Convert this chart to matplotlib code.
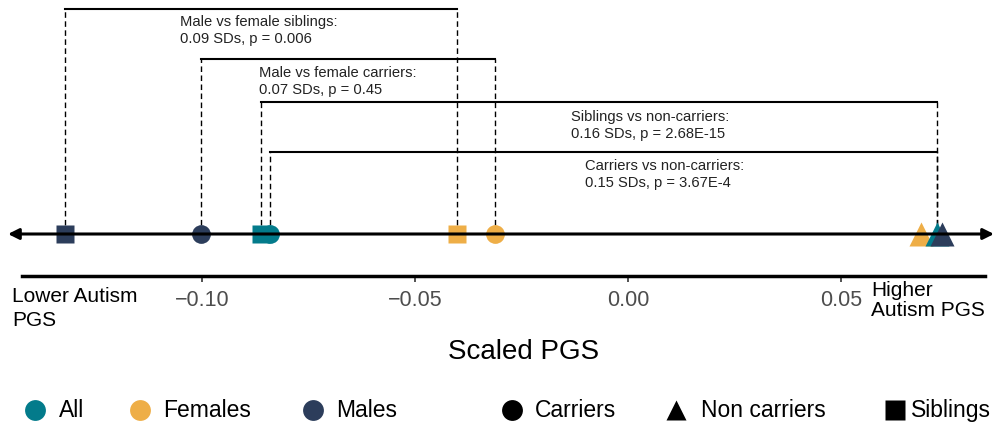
import matplotlib.pyplot as plt
from matplotlib.lines import Line2D
import matplotlib.transforms as mtransforms

plt.rcParams['font.family'] = ['Liberation Sans', 'DejaVu Sans']

TEAL = '#037b8b'
ORANGE = '#eeae47'
NAVY = '#2c3d5b'

# mean scaled PGS per group
groups = ['Siblings', 'Carriers', 'Siblings', 'Carriers', 'Siblings', 'Carriers',
          'Non carriers', 'Non carriers', 'Non carriers']
sexes = ['Males', 'Males', 'All', 'All', 'Females', 'Females',
         'Females', 'All', 'Males']
pgs = [-0.1322, -0.1003, -0.0862, -0.0841, -0.0401, -0.0313,
       0.0688, 0.0726, 0.0738]

# comparisons: (left group index, right group index, text)
comparisons = [
    (0, 4, 'Male vs female siblings:\n0.09 SDs, p = 0.006'),
    (1, 5, 'Male vs female carriers:\n0.07 SDs, p = 0.45'),
    (2, 7, 'Siblings vs non-carriers:\n0.16 SDs, p = 2.68E-15'),
    (3, 7, 'Carriers vs non-carriers:\n0.15 SDs, p = 3.67E-4'),
]

colours = {'All': TEAL, 'Females': ORANGE, 'Males': NAVY}
shapes = {'Carriers': 'o', 'Non carriers': '^', 'Siblings': 's'}
sizes = {'o': 13.5, '^': 17, 's': 13}

W, H = 995, 427
fig = plt.figure(figsize=(W / 100, H / 100), dpi=100)
ax = fig.add_axes([22 / W, (H - 277) / H, 963 / W, 277 / H])
ax.set_xlim(-0.1423, 0.0838)
ax.set_ylim(-42, 235)

# bracket heights and text anchors (x offset from left end, y top)
levels = [225, 175, 132, 82]
text_pos = [(0.0270, 220), (0.0137, 169), (0.0729, 125), (0.0740, 76)]

for (i, j, label), lev, (dx, ty) in zip(comparisons, levels, text_pos):
    x0, x1 = pgs[i], pgs[j]
    ax.plot([x0, x1], [lev, lev], color='black', lw=1.5, zorder=2)
    ax.plot([x0, x0], [0, lev], color='black', lw=1, ls=(0, (4, 2.5)), zorder=1)
    ax.plot([x1, x1], [0, lev], color='black', lw=1, ls=(0, (4, 2.5)), zorder=1)
    ax.text(x0 + dx, ty, label, fontsize=10.6, va='top', ha='left',
            color='#222222', linespacing=1.25)

order = [4, 5, 0, 1, 2, 3, 6, 7, 8]
for k in order:
    m = shapes[groups[k]]
    ax.plot(pgs[k], 0, marker=m, ms=sizes[m], color=colours[sexes[k]],
            mec='none', zorder=3)

# number line with arrows at both ends
trans = mtransforms.blended_transform_factory(ax.transAxes, ax.transData)
ax.annotate('', xy=(1 + 9 / 963, 0), xytext=(-14 / 963, 0),
            xycoords=trans, textcoords=trans, annotation_clip=False,
            arrowprops=dict(arrowstyle='<|-|>', lw=2.2, color='black',
                            mutation_scale=16, shrinkA=0, shrinkB=0),
            zorder=4)

for s in ['left', 'right', 'top']:
    ax.spines[s].set_visible(False)
ax.spines['bottom'].set_linewidth(2.5)
ax.set_yticks([])
ax.set_xticks([-0.10, -0.05, 0.00, 0.05])
ax.set_xticklabels(['\u22120.10', '\u22120.05', '0.00', '0.05'], color='#4d4d4d')
ax.tick_params(axis='x', length=4, width=1.2, pad=5, labelsize=15.5,
               color='#333333')

fig.text(12 / W, 1 - 287 / H, 'Lower Autism\nPGS', fontsize=15, va='top',
         ha='left', linespacing=1.35)
fig.text(871 / W, 1 - 281 / H, 'Higher\nAutism PGS', fontsize=15, va='top',
         ha='left', linespacing=1.1)
fig.text(524 / W, 1 - 352 / H, 'Scaled PGS', fontsize=20, va='center', ha='center')

# legend: colour key then shape key
legend_items = [
    (35, 'o', TEAL, 'All', 59),
    (140, 'o', ORANGE, 'Females', 163),
    (313, 'o', NAVY, 'Males', 336),
    (512, 'o', 'black', 'Carriers', 535),
    (676, '^', 'black', 'Non carriers', 701),
    (895, 's', 'black', 'Siblings', 911),
]
ly = 1 - 411 / H
for mx, m, c, lab, tx in legend_items:
    fig.add_artist(Line2D([mx / W], [ly], marker=m, ms=15 if m != 's' else 14,
                          color=c, mec='none', transform=fig.transFigure))
    fig.text(tx / W, ly, lab, fontsize=16.5, va='center', ha='left')

fig.savefig('out.png', dpi=100)
